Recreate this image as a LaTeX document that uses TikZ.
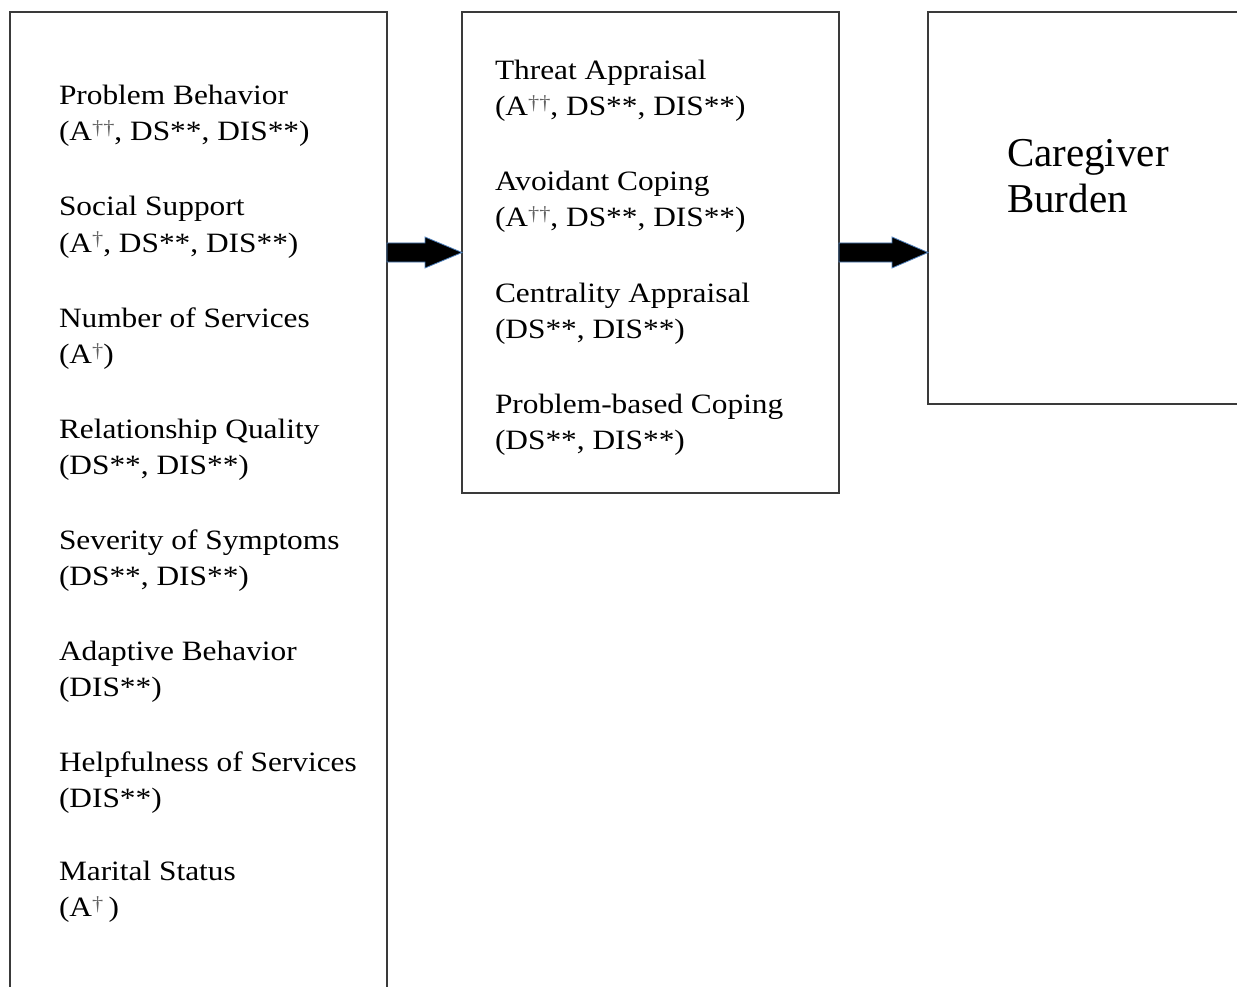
\documentclass[tikz,border=0pt]{standalone}
\usepackage{fontspec}
\setmainfont{Liberation Serif}
\usetikzlibrary{calc}

\definecolor{frame}{HTML}{3A3A3A}
\definecolor{arrowblue}{HTML}{4F81BD}

% slightly widened small-size text, as set in the boxes
\newcommand\wide[1]{\scalebox{1.12}[1]{#1}}
% small raised grey daggers
\newcommand\dg[1]{\raisebox{6pt}{\textcolor{black!62}{\fontsize{20}{20}\selectfont #1}}}

\tikzset{
  box/.style={draw=frame, line width=2pt, fill=white, rectangle,
    inner sep=0pt, outer sep=0pt, anchor=north west},
  lbl/.style={inner sep=0pt, outer sep=0pt, anchor=base west,
    font=\fontsize{28}{34}\selectfont},
  big/.style={inner sep=0pt, outer sep=0pt, anchor=base west,
    font=\fontsize{41}{46}\selectfont},
  blockarrow/.style={fill=black, draw=arrowblue, line width=0.8pt,
    line join=miter},
}

% two-line entry: name, position of first baseline, first line, second line
\newcommand\entry[4]{%
  \node[lbl] (#1) at (#2) {\wide{#3}};
  \node[lbl] (#1-b) at ($(#1.base west)+(0,36)$) {\wide{#4}};
}

\begin{document}
\begin{tikzpicture}[x=1pt, y=-1pt]
  \useasboundingbox (0,0) rectangle (1237,987);
  \fill[white] (0,0) rectangle (1237,987);
  \clip (0,0) rectangle (1237,987);

  % the three boxes
  \node[box, minimum width=377pt, minimum height=1000pt] (inputs) at (10,12) {};
  \node[box, minimum width=377pt, minimum height=481pt] (mediators) at (462,12) {};
  \node[box, minimum width=340pt, minimum height=392pt] (outcome) at (928,12) {};

  % predictors
  \entry{pb}{59,105}{Problem Behavior}{(A\dg{††}, DS**, DIS**)}
  \entry{ss}{59,216}{Social Support}{(A\dg{†}, DS**, DIS**)}
  \entry{ns}{59,327}{Number of Services}{(A\dg{†})}
  \entry{rq}{59,438}{Relationship Quality}{(DS**, DIS**)}
  \entry{sv}{59,549}{Severity of Symptoms}{(DS**, DIS**)}
  \entry{ab}{59,660}{Adaptive Behavior}{(DIS**)}
  \entry{hs}{59,771}{Helpfulness of Services}{(DIS**)}
  \entry{ms}{59,880}{Marital Status}{(A\dg{†}\,)}

  % appraisal and coping
  \entry{ta}{495,80}{Threat Appraisal}{(A\dg{††}, DS**, DIS**)}
  \entry{ac}{495,191}{Avoidant Coping}{(A\dg{††}, DS**, DIS**)}
  \entry{ca}{495,302}{Centrality Appraisal}{(DS**, DIS**)}
  \entry{pc}{495,413}{Problem-based Coping}{(DS**, DIS**)}

  % outcome
  \node[big] (cb1) at (1007,167) {Caregiver};
  \node[big] (cb2) at (1007,213) {Burden};

  % block arrows between the boxes
  \coordinate (row) at (0,252.5);
  \draw[blockarrow]
    let \p1=(inputs.east |- row), \p2=(mediators.west |- row) in
    (\x1,\y1-9.5pt) -- (\x2-37pt,\y1-9.5pt) -- (\x2-37pt,\y1-15.5pt) --
    (\x2,\y1) -- (\x2-37pt,\y1+15.5pt) -- (\x2-37pt,\y1+9.5pt) --
    (\x1,\y1+9.5pt) -- cycle;
  \draw[blockarrow]
    let \p1=(mediators.east |- row), \p2=(outcome.west |- row) in
    (\x1,\y1-9.5pt) -- (\x2-36pt,\y1-9.5pt) -- (\x2-36pt,\y1-15.5pt) --
    (\x2,\y1) -- (\x2-36pt,\y1+15.5pt) -- (\x2-36pt,\y1+9.5pt) --
    (\x1,\y1+9.5pt) -- cycle;
\end{tikzpicture}
\end{document}
